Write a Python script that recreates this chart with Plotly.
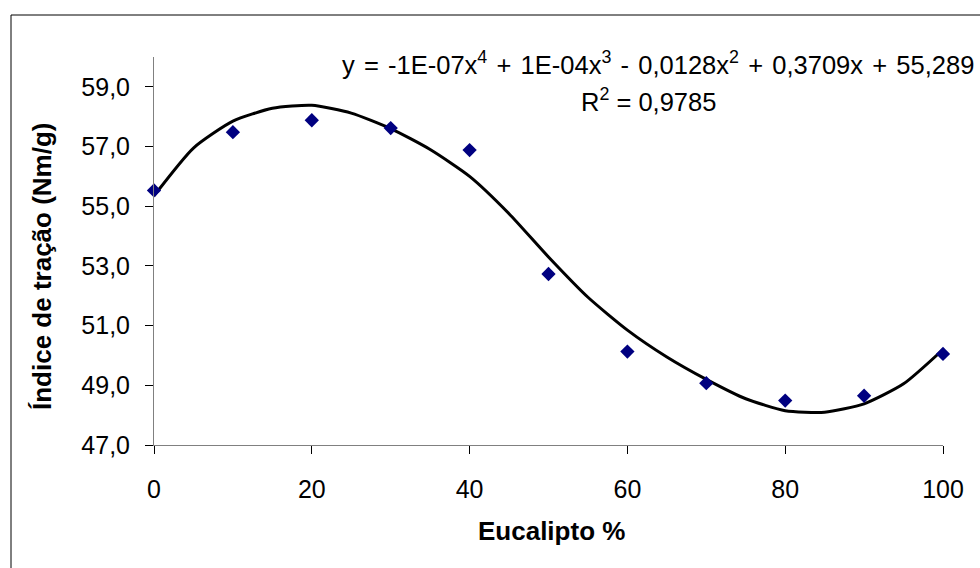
import plotly.graph_objects as go

# Measured points
eucalipto = [0, 10, 20, 30, 40, 50, 60, 70, 80, 90, 100]
indice_tracao = [55.53, 57.48, 57.88, 57.62, 56.88, 52.73, 50.13, 49.07, 48.49, 48.65, 50.05]

# Polynomial trend line
trend_x = [0, 5, 10, 15, 20, 25, 30, 35, 40, 45, 50, 55, 60, 65, 70, 75, 80, 85, 90, 95, 100]
trend_y = [55.35, 56.95, 57.85, 58.28, 58.38, 58.12, 57.6, 56.9, 56.0, 54.75, 53.3, 51.95, 50.85,
           49.95, 49.2, 48.55, 48.15, 48.1, 48.38, 49.05, 50.2]

y_ticks = [47, 49, 51, 53, 55, 57, 59]
x_ticks = [0, 20, 40, 60, 80, 100]

equation = "y = -1E-07x<sup>4</sup> + 1E-04x<sup>3</sup> - 0,0128x<sup>2</sup> + 0,3709x + 55,289"
r2_text = "R<sup>2</sup> = 0,9785"
x_title = "Eucalipto %"
y_title = "Índice de tração (Nm/g)"

FONT = "Liberation Sans, Arial, sans-serif"

# pixel -> paper helpers (plot area: x 154..943, y 57..445)
L, R, T, B = 154, 943, 57, 445
def px(x):
    return (x - L) / (R - L)
def py(y):
    return (B - y) / (B - T)

# Excel draws slightly wider word gaps in the trendline label
eq_display = equation.replace(" ", " \u200a")

fig = go.Figure()
fig.add_trace(go.Scatter(x=trend_x, y=trend_y, mode="lines",
                         line=dict(color="black", width=3, shape="spline", smoothing=0.6),
                         hoverinfo="skip", showlegend=False))
fig.add_trace(go.Scatter(x=eucalipto, y=indice_tracao, mode="markers",
                         marker=dict(symbol="diamond", color="#000080", size=11,
                                     line=dict(width=0)),
                         showlegend=False, cliponaxis=False))

fig.update_layout(
    width=980, height=568,
    margin=dict(l=L, r=980 - R, t=T, b=568 - B, pad=0),
    paper_bgcolor="white", plot_bgcolor="white",
    separators=",.",
    font=dict(family=FONT, size=25, color="black"),
    xaxis=dict(range=[0, 100], tickvals=x_ticks, showgrid=False, zeroline=False,
               showline=True, linecolor="#808080", linewidth=1,
               ticks="outside", ticklen=8, tickcolor="black", tickwidth=1,
               tickfont=dict(size=25), ticklabelstandoff=14),
    yaxis=dict(range=[47, 60], tickvals=y_ticks, tickformat=".1f", showgrid=False,
               zeroline=False, showline=True, linecolor="#808080", linewidth=1,
               ticks="outside", ticklen=8, tickcolor="black", tickwidth=1,
               tickfont=dict(size=25), ticklabelstandoff=10),
    shapes=[dict(type="rect", xref="paper", yref="paper",
                 x0=px(11), x1=px(990), y0=py(580), y1=py(15),
                 line=dict(color="black", width=1), fillcolor="rgba(0,0,0,0)", layer="below")],
    annotations=[
        dict(text=eq_display, xref="paper", yref="paper", x=px(976), y=py(63),
             xanchor="right", yanchor="middle", showarrow=False, font=dict(size=25.5)),
        dict(text=r2_text, xref="paper", yref="paper", x=px(648), y=py(100),
             xanchor="center", yanchor="middle", showarrow=False, font=dict(size=25.5)),
        dict(text="<b>" + x_title + "</b>", xref="paper", yref="paper", x=px(551), y=py(531),
             xanchor="center", yanchor="middle", showarrow=False, font=dict(size=26)),
        dict(text="<b>" + y_title + "</b>", xref="paper", yref="paper", x=px(42), y=py(266),
             xanchor="center", yanchor="middle", showarrow=False, textangle=-90,
             font=dict(size=26)),
    ],
)

fig.write_html("out.html")
